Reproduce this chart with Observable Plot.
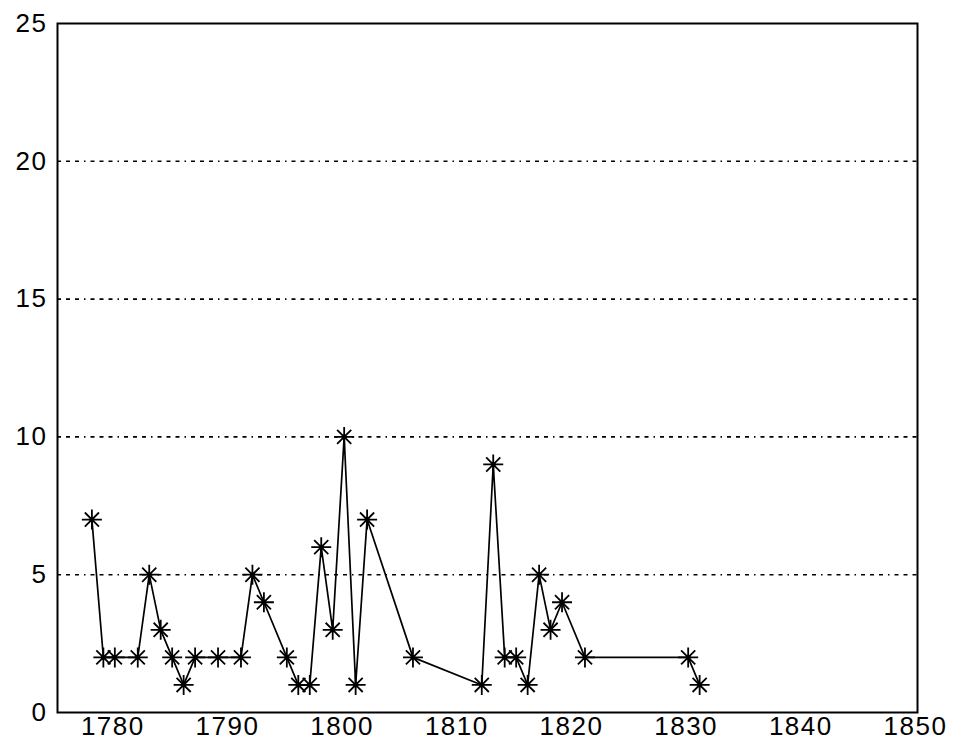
<!DOCTYPE html>
<html>
<head>
<meta charset="utf-8">
<script src="https://cdn.jsdelivr.net/npm/d3@7"></script>
<script src="https://cdn.jsdelivr.net/npm/@observablehq/plot@0.6"></script>
<style>
  html, body { margin: 0; padding: 0; background: #ffffff; }
  #chart svg { display: block; }
</style>
</head>
<body>
<div id="chart"></div>
<script>
const years  = [1778, 1779, 1780, 1782, 1783, 1784, 1785, 1786, 1787, 1789, 1791, 1792, 1793, 1795, 1796, 1797, 1798, 1799, 1800, 1801, 1802, 1806, 1812, 1813, 1814, 1815, 1816, 1817, 1818, 1819, 1821, 1830, 1831];
const counts = [7, 2, 2, 2, 5, 3, 2, 1, 2, 2, 2, 5, 4, 2, 1, 1, 6, 3, 10, 1, 7, 2, 1, 9, 2, 2, 1, 5, 3, 4, 2, 2, 1];
const xTicks = [1780, 1790, 1800, 1810, 1820, 1830, 1840, 1850];
const yTicks = [0, 5, 10, 15, 20, 25];
const gridLevels = [5, 10, 15, 20];

const data = years.map((year, i) => ({year, count: counts[i]}));

// 8-armed asterisk symbol
const asterisk8 = {
  draw(context, size) {
    const r = Math.sqrt(size / Math.PI);
    const d = r * Math.SQRT1_2;
    context.moveTo(-r, 0); context.lineTo(r, 0);
    context.moveTo(0, -r); context.lineTo(0, r);
    context.moveTo(-d, -d); context.lineTo(d, d);
    context.moveTo(-d, d); context.lineTo(d, -d);
  }
};

const chart = Plot.plot({
  width: 956,
  height: 747,
  marginLeft: 57,
  marginRight: 39,
  marginTop: 23,
  marginBottom: 35,
  style: {fontFamily: "'Liberation Sans', Arial, sans-serif", fontSize: "26px", background: "#ffffff", color: "#000", letterSpacing: "1.5px"},
  x: {domain: [1775, 1850], label: null},
  y: {domain: [0, 25], label: null},
  marks: [
    Plot.ruleY(gridLevels, {stroke: "#000", strokeWidth: 1.6, strokeDasharray: "4,5,4,5,4,5,1.5,5"}),
    Plot.frame({stroke: "#000", strokeWidth: 2}),
    Plot.line(data, {x: "year", y: "count", stroke: "#000", strokeWidth: 1.7}),
    Plot.dot(data, {x: "year", y: "count", symbol: asterisk8, r: 10, fill: "none", stroke: "#000", strokeWidth: 1.8}),
    Plot.dot(data, {x: "year", y: "count", r: 2.4, fill: "#000", stroke: "none"}),
    Plot.axisX({ticks: xTicks, tickSize: 0, tickPadding: 4, tickFormat: d => String(d), label: null, dx: -2}),
    Plot.axisY({ticks: yTicks, tickSize: 0, tickPadding: 10, tickFormat: d => String(d), label: null})
  ]
});
document.getElementById("chart").appendChild(chart);
</script>
</body>
</html>
